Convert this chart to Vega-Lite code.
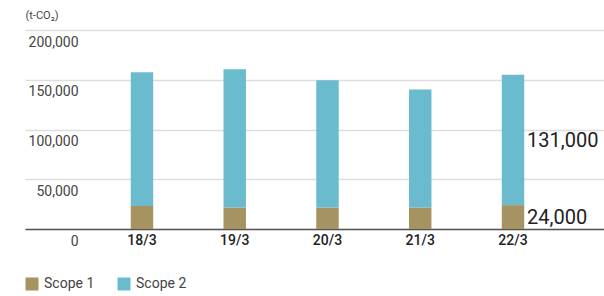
{
  "$schema": "https://vega.github.io/schema/vega-lite/v6.json",
  "width": 579,
  "height": 199,
  "autosize": "none",
  "padding": {"left": 25, "top": 30, "right": 0, "bottom": 67},
  "background": "white",
  "config": {
    "font": "Roboto",
    "view": {"stroke": null}
  },
  "data": {
    "values": [
      {"year": "18/3", "scope": "Scope 1", "value": 23000},
      {"year": "18/3", "scope": "Scope 2", "value": 134500},
      {"year": "19/3", "scope": "Scope 1", "value": 21600},
      {"year": "19/3", "scope": "Scope 2", "value": 138900},
      {"year": "20/3", "scope": "Scope 1", "value": 21600},
      {"year": "20/3", "scope": "Scope 2", "value": 127800},
      {"year": "21/3", "scope": "Scope 1", "value": 21600},
      {"year": "21/3", "scope": "Scope 2", "value": 118700},
      {"year": "22/3", "scope": "Scope 1", "value": 24000},
      {"year": "22/3", "scope": "Scope 2", "value": 131000}
    ]
  },
  "encoding": {
    "x": {
      "field": "year",
      "type": "nominal",
      "sort": null,
      "scale": {"paddingInner": 0.758, "paddingOuter": 1.06, "align": 0.57},
      "axis": {
        "title": null,
        "labelAngle": 0,
        "ticks": false,
        "domainColor": "#555555",
        "domainWidth": 1.5,
        "labelFontSize": 14,
        "labelColor": "#222222",
        "labelFontWeight": 500,
        "labelPadding": 4,
        "grid": false
      }
    }
  },
  "layer": [
    {
      "mark": {"type": "bar"},
      "encoding": {
        "y": {
          "field": "value",
          "type": "quantitative",
          "stack": "zero",
          "scale": {"domain": [0, 200000], "nice": false},
          "axis": {
            "values": [0, 50000, 100000, 150000, 200000],
            "format": ",.0f",
            "grid": true,
            "gridColor": "#dddddd",
            "gridWidth": 1.5,
            "domain": false,
            "ticks": false,
            "labelAlign": "right",
            "labelBaseline": "middle",
            "labelPadding": -53,
            "labelOffset": 12,
            "labelFontSize": 14,
            "labelColor": "#444444",
            "title": "(t-CO₂)",
            "titleAngle": 0,
            "titleAlign": "left",
            "titleBaseline": "middle",
            "titleX": 0,
            "titleY": -15,
            "titleFontSize": 11,
            "titleFontWeight": "normal",
            "titleColor": "#444444"
          }
        },
        "color": {
          "field": "scope",
          "type": "nominal",
          "scale": {"domain": ["Scope 1", "Scope 2"], "range": ["#a59461", "#6bbbce"]},
          "legend": {
            "title": null,
            "orient": "none",
            "legendX": 0,
            "legendY": 247,
            "direction": "horizontal",
            "symbolType": "square",
            "symbolSize": 169,
            "symbolStrokeWidth": 0,
            "labelFontSize": 14,
            "labelColor": "#444444",
            "labelOffset": 5,
            "columnPadding": 22
          }
        },
        "order": {"field": "scope", "sort": "ascending"}
      }
    },
    {
      "transform": [
        {"stack": "value", "groupby": ["year"], "sort": [{"field": "scope", "order": "ascending"}], "as": ["v0", "v1"]},
        {"filter": "datum.year == '22/3'"},
        {"calculate": "(datum.v0 + datum.v1) / 2", "as": "mid"}
      ],
      "mark": {"type": "text", "align": "left", "baseline": "middle", "dx": 14, "dy": 1, "fontSize": 20, "color": "#222222"},
      "encoding": {
        "y": {"field": "mid", "type": "quantitative", "stack": null},
        "text": {"field": "value", "type": "quantitative", "format": ",.0f"}
      }
    }
  ]
}
